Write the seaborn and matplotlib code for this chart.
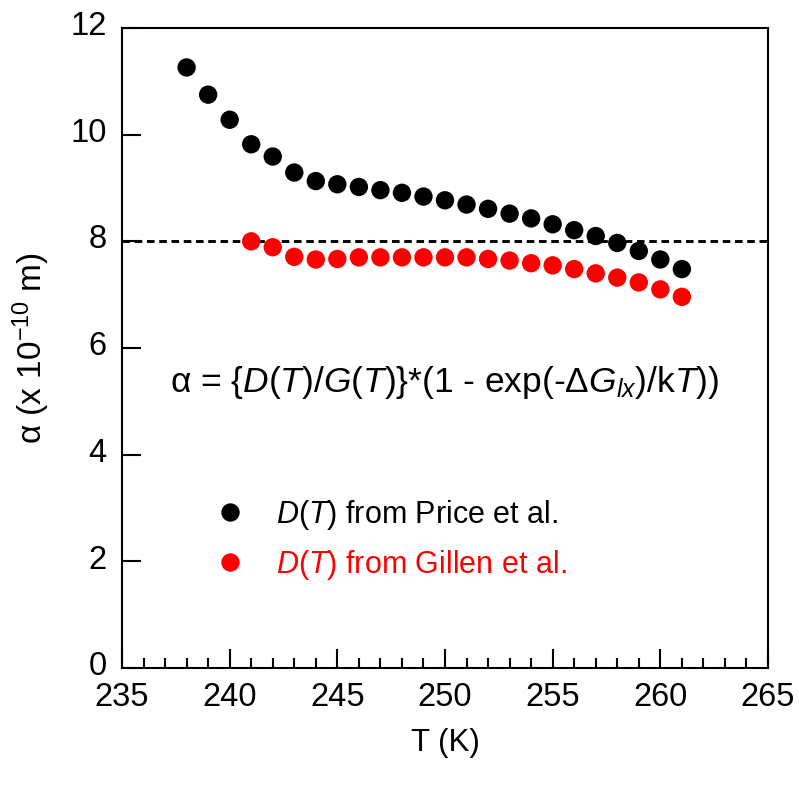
import numpy as np
import pandas as pd
import matplotlib
matplotlib.use("Agg")
import matplotlib.pyplot as plt
import matplotlib.transforms as mtransforms
import seaborn as sns

# ---- data ----
T_price = [238, 239, 240, 241, 242, 243, 244, 245, 246, 247, 248, 249,
           250, 251, 252, 253, 254, 255, 256, 257, 258, 259, 260, 261]
alpha_price = [11.26, 10.75, 10.28, 9.82, 9.59, 9.29, 9.13, 9.07, 9.02, 8.96, 8.91, 8.84,
               8.77, 8.69, 8.61, 8.52, 8.43, 8.32, 8.21, 8.10, 7.97, 7.82, 7.66, 7.48]
T_gillen = [241, 242, 243, 244, 245, 246, 247, 248, 249, 250, 251,
            252, 253, 254, 255, 256, 257, 258, 259, 260, 261]
alpha_gillen = [8.00, 7.89, 7.71, 7.66, 7.67, 7.70, 7.70, 7.70, 7.70, 7.70, 7.70,
                7.67, 7.64, 7.59, 7.55, 7.48, 7.40, 7.32, 7.23, 7.10, 6.96]
label_price = r"$\it{D(T)}$ from Price et al."
label_gillen = r"$\it{D(T)}$ from Gillen et al."
ref_level = 8.0
x_ticks = [235, 240, 245, 250, 255, 260, 265]
y_ticks = [0, 2, 4, 6, 8, 10, 12]

df = pd.DataFrame({
    "T": T_price + T_gillen,
    "alpha": alpha_price + alpha_gillen,
    "source": [label_price] * len(T_price) + [label_gillen] * len(T_gillen),
})

sns.set_style("white")
plt.rcParams["font.family"] = ["Liberation Sans", "DejaVu Sans"]
plt.rcParams["mathtext.fontset"] = "custom"
plt.rcParams["mathtext.rm"] = "Liberation Sans"
plt.rcParams["mathtext.it"] = "Liberation Sans:italic"
plt.rcParams["mathtext.bf"] = "Liberation Sans:bold"
plt.rcParams["text.color"] = "black"
plt.rcParams["axes.labelcolor"] = "black"
plt.rcParams["xtick.color"] = "black"
plt.rcParams["ytick.color"] = "black"

fig = plt.figure(figsize=(7.99, 7.86), dpi=100)
ax = fig.add_axes([0.1527, 0.150, 0.8085, 0.8144])

palette = {label_price: "black", label_gillen: "#ff0000"}
sns.scatterplot(data=df, x="T", y="alpha", hue="source", palette=palette,
                s=175, edgecolor="none", linewidth=0, ax=ax, zorder=3)

ax.axhline(ref_level, color="black", lw=2.1, dashes=(2.6, 1.6), zorder=2)

ax.set_xlim(235, 265)
ax.set_ylim(0, 12)
ax.set_xticks(x_ticks)
ax.set_yticks(y_ticks)
ax.set_xticks(np.arange(235, 266, 1), minor=True)
ax.tick_params(axis="both", which="both", bottom=True, left=True, top=False, right=False)
ax.tick_params(axis="both", which="major", direction="in", length=14, width=1.5,
               labelsize=23.5)
ax.tick_params(axis="x", which="minor", direction="in", length=7, width=1.5)
ax.tick_params(axis="x", which="major", pad=10)
ax.tick_params(axis="y", which="major", pad=11)
for s in ax.spines.values():
    s.set_linewidth(1.5)
    s.set_color("black")

# y tick labels sit slightly above their ticks in the reference
offset = mtransforms.ScaledTranslation(0, 3.5 / 72, fig.dpi_scale_trans)
for lbl in ax.get_yticklabels():
    lbl.set_transform(lbl.get_transform() + offset)

ax.set_xlabel("T (K)", fontsize=22.5, labelpad=11)
ax.set_ylabel(r"α (x 10$^{-10}$ m)", fontsize=24, labelpad=13)

ax.text(250.0, 5.36,
        r"α = {$\it{D(T)/G(T)}$}*(1 - exp(-Δ$\it{G}_{\it{lx}}$)/k$\it{T}$))",
        fontsize=25.5, ha="center", va="center")

handles, labels = ax.get_legend_handles_labels()
leg = ax.legend(handles, labels, loc="upper left", bbox_to_anchor=(0.101, 0.285),
                frameon=False, fontsize=22, handletextpad=0.5, labelspacing=0.52,
                markerscale=1.0, borderaxespad=0)
for txt, lab in zip(leg.get_texts(), labels):
    txt.set_color(palette[lab])

fig.savefig("out.png", dpi=100)
